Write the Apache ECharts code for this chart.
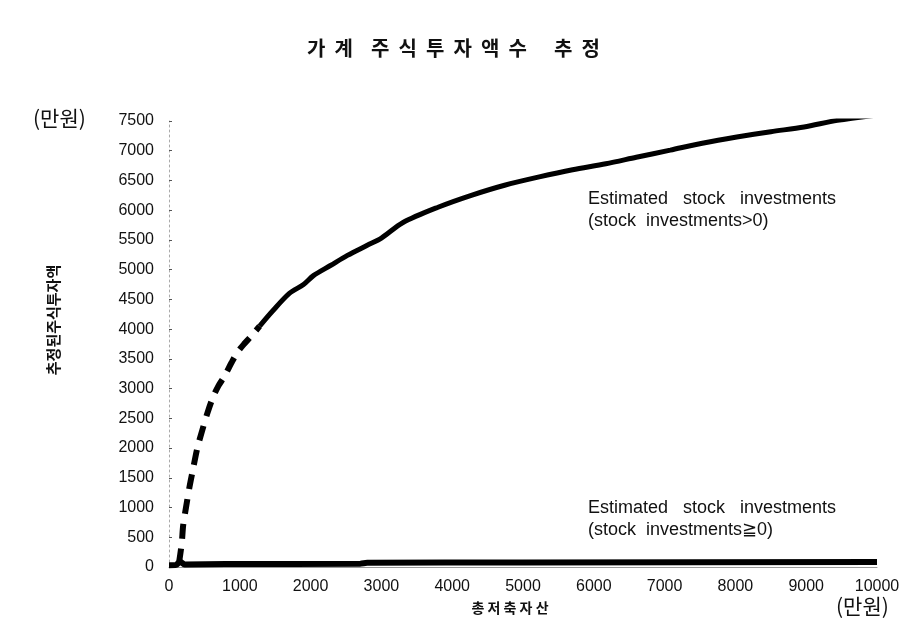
<!DOCTYPE html>
<html>
<head>
<meta charset="utf-8">
<style>
html,body{margin:0;padding:0;background:#fff;}
#chart{width:913px;height:642px;}
</style>
<script src="https://cdn.jsdelivr.net/npm/echarts@6/dist/echarts.min.js"></script>
</head>
<body>
<div id="chart"></div>
<script>
// Estimated stock investments (stock investments>0): steep sparse part (dashed look)
const upperSparseX = [140, 180, 200, 240, 290, 340, 400, 470, 540, 620, 700, 780, 880, 960, 1060, 1160, 1280];
const upperSparseY = [60, 400, 700, 1000, 1350, 1650, 2000, 2300, 2580, 2850, 3050, 3200, 3430, 3600, 3750, 3880, 4050];
// same series, dense part (solid look)
const upperDenseX = [1280, 1460, 1700, 1900, 2040, 2280, 2520, 2800, 3000, 3300, 3800, 4270, 4740, 5230, 5700, 6170, 6600, 7080, 7550, 8020, 8500, 8970, 9440, 10000];
const upperDenseY = [4050, 4300, 4600, 4750, 4900, 5070, 5240, 5410, 5530, 5790, 6050, 6250, 6420, 6560, 6680, 6780, 6890, 7010, 7130, 7230, 7320, 7400, 7510, 7600];
// Estimated stock investments (stock investments>=0)
const lowerX = [0, 100, 160, 220, 800, 2700, 2800, 5000, 10000];
const lowerY = [30, 35, 90, 40, 50, 55, 70, 75, 85];

const titleText = '가  계    주  식  투  자  액  수      추  정';
const yAxisName = '추정된주식투자액';
const xAxisName = '총 저 축 자 산';
const unitText = '(만원)';
const noteUpper = ['Estimated   stock   investments', '(stock  investments>0)'];
const noteLower = ['Estimated   stock   investments', '(stock  investments\u22670)'];

function pairs(xs, ys){ return xs.map((x,i)=>[x, ys[i]]); }

const chart = echarts.init(document.getElementById('chart'));
const cjk = '"Noto Sans CJK KR", sans-serif';
const lat = '"Liberation Sans", Arial, sans-serif';

chart.setOption({
  animation: false,
  backgroundColor: '#fff',
  title: {
    text: titleText,
    left: 302,
    top: 33,
    textStyle: {fontFamily: cjk, fontSize: 20, fontWeight: 'bold', color: '#111'}
  },
  grid: {left: 169, right: 36, top: 121, bottom: 75, containLabel: false},
  xAxis: {
    type: 'value', min: 0, max: 10000, interval: 1000,
    axisLine: {show: true, lineStyle: {color: '#999', width: 1}},
    axisTick: {show: false},
    splitLine: {show: false},
    axisLabel: {fontFamily: lat, fontSize: 16, color: '#111', margin: 12, formatter: v => String(v)}
  },
  yAxis: {
    type: 'value', min: 0, max: 7500, interval: 500,
    axisLine: {show: true, lineStyle: {color: '#aaa', width: 1, type: [2, 3]}},
    axisTick: {show: true, inside: true, length: 3, lineStyle: {color: '#555'}},
    splitLine: {show: false},
    axisLabel: {fontFamily: lat, fontSize: 16, color: '#111', margin: 15, formatter: v => String(v)}
  },
  series: [
    {
      type: 'line', data: pairs(upperSparseX, upperSparseY), showSymbol: false, smooth: 0.3,
      lineStyle: {color: '#000', width: 6, type: [15, 10]}, z: 3
    },
    {
      type: 'line', data: pairs(upperDenseX, upperDenseY), showSymbol: false, smooth: 0.3,
      lineStyle: {color: '#000', width: 5}, z: 3
    },
    {
      type: 'line', data: pairs(lowerX, lowerY), showSymbol: false, smooth: 0.2,
      lineStyle: {color: '#000', width: 6}, z: 4
    }
  ],
  graphic: [
    {type: 'text', left: 33, top: 108, style: {text: unitText, font: '21px ' + cjk, fill: '#111'}},
    {type: 'text', left: 836, top: 596, style: {text: unitText, font: '21px ' + cjk, fill: '#111'}},
    {type: 'text', x: 53, y: 320, rotation: Math.PI/2,
      style: {text: yAxisName, font: 'bold 15px ' + cjk, fill: '#111', align: 'center', verticalAlign: 'middle'}},
    {type: 'text', x: 510, y: 608,
      style: {text: xAxisName, font: 'bold 14px ' + cjk, fill: '#111', align: 'center', verticalAlign: 'middle'}},
    {type: 'text', left: 588, top: 188,
      style: {text: noteUpper.join('\n'), font: '18px ' + lat, fill: '#111', lineHeight: 22}},
    {type: 'text', left: 588, top: 497,
      style: {text: noteLower.join('\n'), font: '18px ' + lat, fill: '#111', lineHeight: 22}}
  ]
});
</script>
</body>
</html>
